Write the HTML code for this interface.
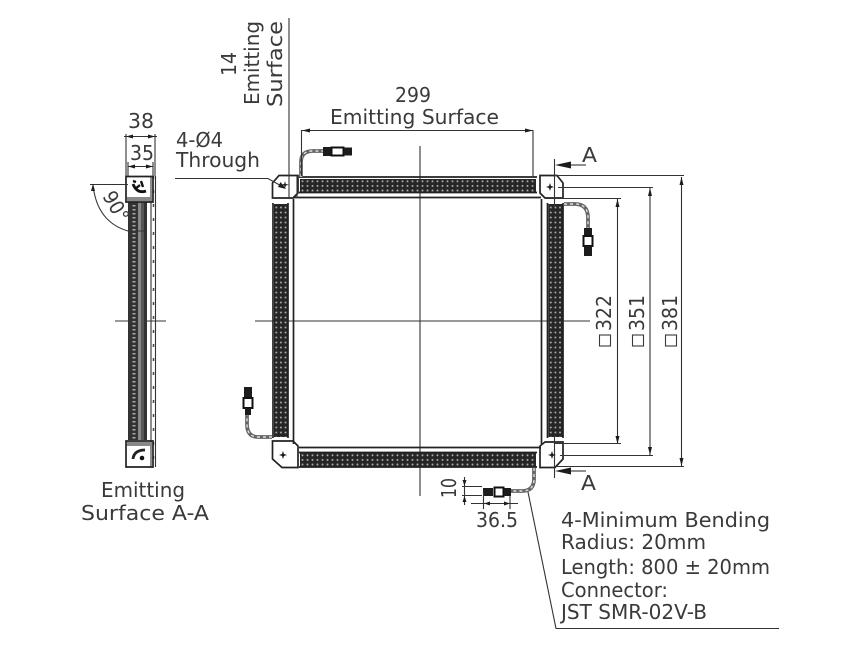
<!DOCTYPE html>
<html>
<head>
<meta charset="utf-8">
<style>
html,body{margin:0;padding:0;background:#fff;width:848px;height:662px;overflow:hidden}
svg{display:block;filter:blur(0.35px)}
text{font-family:"DejaVu Sans","Liberation Sans",sans-serif;fill:#3a3a3a;font-size:20px;font-weight:normal}
.l{fill:none;stroke:#333;stroke-width:1.1}
.m{fill:none;stroke:#222;stroke-width:1.7}
.c{fill:none;stroke:#666;stroke-width:3.8}
.c2{fill:none;stroke:#ddd;stroke-width:1.4;stroke-dasharray:3 3}
.k{fill:#1c1c1c}
</style>
</head>
<body>
<svg width="848" height="662" viewBox="0 0 848 662" xmlns="http://www.w3.org/2000/svg">
<defs>
<pattern id="h" width="5" height="4.6" patternUnits="userSpaceOnUse" y="179">
<rect width="5" height="4.6" fill="#262626"/><circle cx="2.5" cy="2.3" r="1" fill="#a8a8a8"/>
</pattern>
<pattern id="hb" width="5" height="4.6" patternUnits="userSpaceOnUse" y="453">
<rect width="5" height="4.6" fill="#262626"/><circle cx="2.5" cy="2.3" r="1" fill="#a8a8a8"/>
</pattern>
<pattern id="v" width="4.6" height="5" patternUnits="userSpaceOnUse" x="274">
<rect width="4.6" height="5" fill="#262626"/><circle cx="2.3" cy="2.5" r="1" fill="#a8a8a8"/>
</pattern>
<pattern id="vr" width="4.6" height="5" patternUnits="userSpaceOnUse" x="548.5">
<rect width="4.6" height="5" fill="#262626"/><circle cx="2.3" cy="2.5" r="1" fill="#a8a8a8"/>
</pattern>
<pattern id="s" width="4" height="4" patternUnits="userSpaceOnUse" x="132" y="0">
<rect width="4" height="4" fill="#333"/><rect x="0.5" y="1" width="3" height="1.500" fill="#aaa"/>
</pattern>
</defs>

<!-- centre lines -->
<path class="l" d="M420 146V496M255 321H590"/>
<path class="l" stroke-width="1.4" d="M115 321H166"/>

<!-- main frame -->
<path class="m" d="M299 177H537M299 192.500H537M293 197.500H541M293.500 199V444M541.500 199V444M299 447.500H541M299 452.500H537M299 467H537"/>
<rect x="300" y="179" width="236" height="13" fill="url(#h)"/>
<rect x="300" y="453" width="236" height="13.500" fill="url(#hb)"/>
<rect x="274" y="204" width="13.500" height="233" fill="url(#v)"/>
<rect x="548.500" y="204" width="14" height="233" fill="url(#vr)"/>
<path class="m" d="M273 203V438M288 203V438M547.500 203V438M563 203V438"/>

<!-- corner plates -->
<path class="m" d="M272.500 198V183L279 175.500H298V193L293 198Z" fill="#fff"/>
<path class="m" d="M540 175.500H557L563 183V198H545L540 193Z" fill="#fff"/>
<path class="m" d="M272.500 441H293L298 446V467.500H282L272.500 459Z" fill="#fff"/>
<path class="m" d="M540 446L545 442H563V459L555 467.500H540Z" fill="#fff"/>
<path class="k" d="M550 183l1 3 3 1-3 1-1 3-1-3-3-1 3-1Z"/>
<path class="k" d="M283 451l1 3 3 1-3 1-1 3-1-3-3-1 3-1Z"/>
<path class="k" d="M552 451l1 3 3 1-3 1-1 3-1-3-3-1 3-1Z"/>

<!-- connectors -->
<path class="c" d="M301 177V162Q301 151 313 151H324"/>
<path class="c2" d="M301 177V162Q301 151 313 151H324"/>
<rect x="323" y="147" width="8" height="9" class="k"/>
<rect x="331.500" y="147.500" width="12" height="8" fill="#fff" stroke="#111" stroke-width="2"/>
<rect x="344" y="147.500" width="8" height="8" class="k"/>

<path class="c" d="M564 204H575Q588 204 588 218V228"/>
<path class="c2" d="M564 204H575Q588 204 588 218V228"/>
<rect x="584" y="228" width="8" height="8" class="k"/>
<rect x="583.500" y="236" width="9" height="10" fill="#fff" stroke="#111" stroke-width="2"/>
<rect x="584" y="246" width="8" height="10" class="k"/>

<path class="c" d="M272 437H258Q247 437 247 424V415"/>
<path class="c2" d="M272 437H258Q247 437 247 424V415"/>
<rect x="244" y="387" width="8" height="10" class="k"/>
<rect x="243.500" y="398" width="9" height="10" fill="#fff" stroke="#111" stroke-width="2"/>
<rect x="245" y="408" width="6" height="7" class="k"/>

<path class="c" d="M534 468V479Q534 491 522 491H511"/>
<path class="c2" d="M534 468V479Q534 491 522 491H511"/>
<rect x="483" y="488" width="10" height="8" class="k"/>
<rect x="494.500" y="487.500" width="9" height="9" fill="#fff" stroke="#111" stroke-width="2"/>
<rect x="504" y="488" width="7" height="8" class="k"/>

<!-- side view -->
<rect x="128" y="202" width="19" height="238" fill="#333"/>
<rect x="132" y="202" width="4" height="238" fill="url(#s)"/>
<rect x="138" y="202" width="3" height="238" fill="#888"/>
<rect x="141" y="202" width="3" height="238" fill="#555"/>
<path class="l" d="M151 176V467M155.500 176V467"/>
<path d="M153.500 176V467" fill="none" stroke="#444" stroke-width="1.500" stroke-dasharray="3 11"/>
<path class="m" d="M126 176.500H153V202H126Z" fill="#fff"/>
<path class="m" d="M126 441H153V467H126Z" fill="#fff"/>
<rect x="127" y="197" width="25" height="4" fill="#888"/>
<rect x="127" y="442" width="25" height="4" fill="#888"/>
<path d="M133 184Q137 194 146 191" fill="none" stroke="#111" stroke-width="2.800"/>
<path d="M135 189l5-4M141 181l2 6M133 181l3 1" fill="none" stroke="#111" stroke-width="2.400"/>
<path d="M133 459Q134 450 145 450" fill="none" stroke="#222" stroke-width="2.800"/>
<circle cx="142" cy="458" r="2.300" fill="#111"/>

<!-- dimensions -->
<path class="l" d="M289 18V198M297 176V198M301.500 130V176M533 130V176M301.500 130.500H533"/>
<path class="k" d="M302 130.500l8-2v4ZM533 130.500l-8-2v4Z"/>
<path class="l" d="M126 134V176M155 134V176M124 136.500H157M128 162V176M153 162V176M128 166.500H153"/>
<path class="k" d="M126 136.500l7-2v4ZM155 136.500l-7-2v4ZM128 166.500l7-2v4ZM153 166.500l-7-2v4Z"/>
<path class="l" d="M175 178.500H268L285 188"/>
<path class="k" d="M286 189l-8-2 2.500-5Z"/>
<path class="l" d="M90 184.500H128M93 184V190M93 185Q97 222 128 231H145"/>
<path class="k" d="M93 184l-2 7h4Z"/>
<path class="k" d="M285 181l.8 3 3 .8-3 .8-.8 3-.8-3-3-.8 3-.8Z"/>

<path class="l" d="M554.500 159V207"/>
<path class="k" d="M555 165l16-3.500v7Z"/><path class="l" d="M571 165H586"/>
<path class="l" d="M554.500 436V478"/>
<path class="k" d="M555 471l16-3.500v7Z"/><path class="l" d="M571 471H586"/>

<path class="l" d="M554 175.500H684M558 187.500H653M546 198.500H621M560 455.500H653M555 443.500H621M556 466.500H684"/>
<path class="l" d="M681.500 177V466M650 188V455M617.500 199V444"/>
<path class="k" d="M681.500 177l-2 8h4ZM681.500 466l-2-8h4ZM650 188l-2 8h4ZM650 455l-2-8h4ZM617.500 199l-2 8h4ZM617.500 444l-2-8h4Z"/>

<path class="l" d="M462 486.500H482M462 495.500H482M464.500 477V505M471 503.500H518M483.500 492V509M510 496V509"/>
<path class="k" d="M464.500 486l-2-6h4ZM464.500 496l-2 6h4ZM484 503.500l6-2v4ZM510 503.500l-6-2v4Z"/>
<path class="l" d="M528 492L556 628.500H779"/>

<!-- dimension labels -->
<text x="395" y="102" textLength="36" lengthAdjust="spacingAndGlyphs">299</text>
<text x="330" y="124" textLength="169" lengthAdjust="spacingAndGlyphs">Emitting Surface</text>
<text x="128" y="128" textLength="26" lengthAdjust="spacingAndGlyphs">38</text>
<text x="130" y="160" textLength="24" lengthAdjust="spacingAndGlyphs">35</text>
<text x="176" y="147" textLength="47" lengthAdjust="spacingAndGlyphs">4-Ø4</text>
<text x="176" y="167" textLength="84" lengthAdjust="spacingAndGlyphs">Through</text>
<text x="582" y="162" textLength="15" lengthAdjust="spacingAndGlyphs">A</text>
<text x="581" y="490" textLength="15" lengthAdjust="spacingAndGlyphs">A</text>
<text x="101" y="497" textLength="84" lengthAdjust="spacingAndGlyphs">Emitting</text>
<text x="81" y="520" textLength="128" lengthAdjust="spacingAndGlyphs">Surface A-A</text>
<text x="476" y="527" textLength="42" lengthAdjust="spacingAndGlyphs">36.5</text>

<text transform="translate(236 76) rotate(-90)" textLength="24" lengthAdjust="spacingAndGlyphs">14</text>
<text transform="translate(259 105) rotate(-90)" textLength="84" lengthAdjust="spacingAndGlyphs">Emitting</text>
<text transform="translate(282 107) rotate(-90)" textLength="86" lengthAdjust="spacingAndGlyphs">Surface</text>
<text transform="translate(456 498) rotate(-90)" textLength="20" lengthAdjust="spacingAndGlyphs">10</text>
<text transform="translate(102 196) rotate(60)" textLength="32" lengthAdjust="spacingAndGlyphs">90°</text>

<rect x="599.500" y="335" width="11" height="11" fill="none" stroke="#3a3a3a" stroke-width="1.100"/>
<text transform="translate(611 331) rotate(-90)" textLength="36" lengthAdjust="spacingAndGlyphs">322</text>
<rect x="632.500" y="335" width="11" height="11" fill="none" stroke="#3a3a3a" stroke-width="1.100"/>
<text transform="translate(644 331) rotate(-90)" textLength="36" lengthAdjust="spacingAndGlyphs">351</text>
<rect x="665.500" y="335" width="11" height="11" fill="none" stroke="#3a3a3a" stroke-width="1.100"/>
<text transform="translate(677 331) rotate(-90)" textLength="36" lengthAdjust="spacingAndGlyphs">381</text>

<!-- notes -->
<text x="561" y="527" textLength="209" lengthAdjust="spacingAndGlyphs">4-Minimum Bending</text>
<text x="561" y="549" textLength="145" lengthAdjust="spacingAndGlyphs">Radius: 20mm</text>
<text x="561" y="574" textLength="209" lengthAdjust="spacingAndGlyphs">Length: 800 ± 20mm</text>
<text x="561" y="597" textLength="107" lengthAdjust="spacingAndGlyphs">Connector:</text>
<text x="561" y="619" textLength="146" lengthAdjust="spacingAndGlyphs">JST SMR-02V-B</text>
</svg>
</body>
</html>
